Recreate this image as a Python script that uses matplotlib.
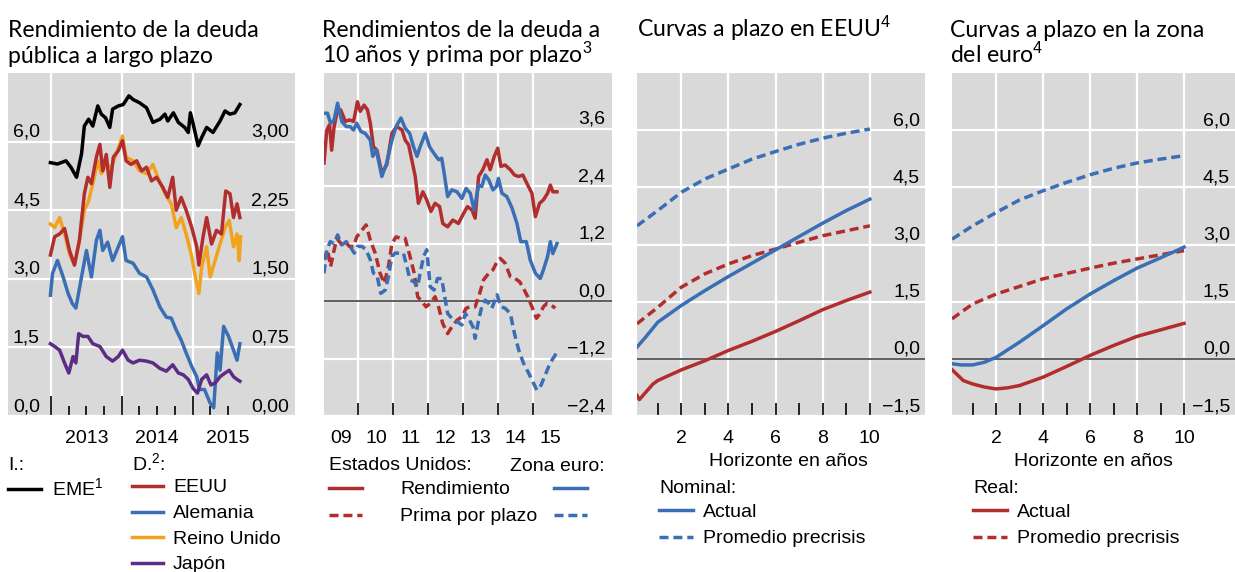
import matplotlib.pyplot as plt
from matplotlib.lines import Line2D
from matplotlib.transforms import blended_transform_factory, offset_copy

plt.rcParams['font.family'] = ['Liberation Sans', 'DejaVu Sans']
plt.rcParams['mathtext.fontset'] = 'custom'
plt.rcParams['mathtext.rm'] = 'Liberation Sans'
plt.rcParams['mathtext.it'] = 'Liberation Sans:italic'

RED = '#B22E2E'
BLUE = '#3A6EB5'
ORANGE = '#F2A31E'
PURPLE = '#5C2D85'
GREY = '#D9D9D9'
TITLE_FONT = ['Lato', 'DejaVu Sans']

# ---- panel 1: long-term government bond yields (decimal years) ----
eme_t = [2012.99, 2013.09, 2013.21, 2013.28, 2013.36, 2013.43, 2013.47, 2013.53, 2013.59, 2013.66,
         2013.71, 2013.77, 2013.83, 2013.87, 2013.95, 2014.02, 2014.10, 2014.16, 2014.25, 2014.35,
         2014.44, 2014.54, 2014.61, 2014.65, 2014.73, 2014.80, 2014.89, 2014.94, 2014.97, 2015.01,
         2015.08, 2015.13, 2015.20, 2015.29, 2015.39, 2015.46, 2015.53, 2015.60, 2015.67]
eme = [5.54, 5.51, 5.58, 5.44, 5.22, 5.73, 6.34, 6.49, 6.34, 6.78,
       6.60, 6.52, 6.31, 6.71, 6.78, 6.81, 7.00, 6.92, 6.85, 6.74,
       6.42, 6.49, 6.60, 6.45, 6.63, 6.42, 6.31, 6.20, 6.63, 6.38,
       5.91, 6.09, 6.31, 6.20, 6.45, 6.67, 6.60, 6.63, 6.81]

eeuu_t = [2012.99, 2013.05, 2013.12, 2013.19, 2013.26, 2013.33, 2013.40, 2013.47, 2013.52, 2013.57,
          2013.64, 2013.69, 2013.73, 2013.78, 2013.83, 2013.88, 2013.95, 2014.01, 2014.06, 2014.13,
          2014.21, 2014.28, 2014.35, 2014.42, 2014.49, 2014.58, 2014.65, 2014.72, 2014.77, 2014.84,
          2014.91, 2014.99, 2015.06, 2015.09, 2015.15, 2015.20, 2015.27, 2015.34, 2015.41, 2015.47,
          2015.53, 2015.58, 2015.63, 2015.67]
eeuu = [1.76, 1.96, 1.99, 2.05, 1.81, 1.65, 1.92, 2.43, 2.61, 2.54,
        2.83, 2.97, 2.68, 2.86, 2.50, 2.83, 2.90, 3.01, 2.79, 2.75,
        2.79, 2.68, 2.72, 2.57, 2.61, 2.50, 2.39, 2.61, 2.25, 2.39,
        2.25, 2.06, 1.85, 1.65, 1.96, 2.17, 1.88, 2.03, 1.99, 2.46,
        2.43, 2.17, 2.32, 2.17]

uk_t = [2012.99, 2013.05, 2013.12, 2013.19, 2013.26, 2013.33, 2013.40, 2013.47, 2013.53, 2013.59,
        2013.66, 2013.71, 2013.78, 2013.85, 2013.92, 2014.01, 2014.06, 2014.16, 2014.25, 2014.35,
        2014.44, 2014.51, 2014.61, 2014.70, 2014.77, 2014.84, 2014.91, 2014.99, 2015.03, 2015.09,
        2015.13, 2015.20, 2015.25, 2015.32, 2015.39, 2015.46, 2015.52, 2015.58, 2015.63, 2015.66,
        2015.68]
uk = [2.10, 2.06, 2.17, 1.99, 1.77, 1.65, 1.92, 2.25, 2.35, 2.54,
      2.79, 2.65, 2.75, 2.72, 2.86, 3.06, 2.83, 2.79, 2.68, 2.65,
      2.75, 2.61, 2.43, 2.32, 2.06, 2.17, 1.99, 1.74, 1.56, 1.34,
      1.63, 1.85, 1.52, 1.70, 1.88, 2.06, 2.14, 1.85, 1.99, 1.70,
      1.96]

de_t = [2012.99, 2013.02, 2013.09, 2013.17, 2013.24, 2013.30, 2013.35, 2013.43, 2013.50, 2013.57,
        2013.64, 2013.69, 2013.73, 2013.80, 2013.87, 2013.95, 2014.01, 2014.06, 2014.16, 2014.25,
        2014.35, 2014.44, 2014.54, 2014.63, 2014.70, 2014.77, 2014.84, 2014.91, 2014.99, 2015.06,
        2015.10, 2015.17, 2015.25, 2015.30, 2015.35, 2015.39, 2015.44, 2015.51, 2015.58, 2015.63,
        2015.67]
de = [1.32, 1.56, 1.70, 1.52, 1.34, 1.23, 1.18, 1.52, 1.81, 1.52,
      1.92, 2.03, 1.81, 1.90, 1.70, 1.85, 1.96, 1.70, 1.67, 1.56,
      1.52, 1.38, 1.19, 1.08, 1.07, 0.94, 0.83, 0.69, 0.54, 0.43,
      0.29, 0.29, 0.14, 0.09, 0.69, 0.50, 0.98, 0.87, 0.72, 0.61,
      0.79]

jp_t = [2012.99, 2013.05, 2013.12, 2013.19, 2013.25, 2013.31, 2013.35, 2013.39, 2013.45, 2013.52,
        2013.59, 2013.69, 2013.78, 2013.87, 2013.95, 2014.01, 2014.09, 2014.16, 2014.25, 2014.35,
        2014.44, 2014.54, 2014.63, 2014.72, 2014.80, 2014.87, 2014.94, 2015.01, 2015.07, 2015.13,
        2015.20, 2015.26, 2015.32, 2015.39, 2015.46, 2015.52, 2015.58, 2015.63, 2015.67]
jp = [0.79, 0.76, 0.72, 0.58, 0.47, 0.65, 0.58, 0.90, 0.87, 0.87,
      0.79, 0.76, 0.65, 0.60, 0.65, 0.72, 0.61, 0.58, 0.61, 0.60,
      0.58, 0.52, 0.49, 0.56, 0.47, 0.45, 0.40, 0.30, 0.25, 0.40,
      0.45, 0.34, 0.36, 0.43, 0.47, 0.50, 0.43, 0.40, 0.38]

p1_years = [2013, 2014, 2015]
p1_left_ticks = [0.0, 1.5, 3.0, 4.5, 6.0]
p1_left_labels = ['0,0', '1,5', '3,0', '4,5', '6,0']
p1_right_ticks = [0.0, 0.75, 1.5, 2.25, 3.0]
p1_right_labels = ['0,00', '0,75', '1,50', '2,25', '3,00']

# ---- panel 2: 10-year yields and term premia ----
us_y_t = [2009.01, 2009.09, 2009.17, 2009.23, 2009.30, 2009.38, 2009.49, 2009.62, 2009.74, 2009.86,
          2009.97, 2010.05, 2010.16, 2010.26, 2010.34, 2010.43, 2010.53, 2010.67, 2010.81, 2010.96,
          2011.10, 2011.25, 2011.34, 2011.44, 2011.53, 2011.63, 2011.72, 2011.85, 2011.96, 2012.08,
          2012.20, 2012.33, 2012.42, 2012.56, 2012.71, 2012.87, 2013.02, 2013.13, 2013.26, 2013.35,
          2013.45, 2013.57, 2013.69, 2013.78, 2013.90, 2014.00, 2014.09, 2014.21, 2014.36, 2014.48,
          2014.60, 2014.72, 2014.86, 2014.98, 2015.08, 2015.20, 2015.31, 2015.43, 2015.51, 2015.58,
          2015.70]
us_y = [2.88, 3.57, 3.68, 3.15, 3.64, 3.92, 3.99, 3.75, 3.78, 3.75,
        4.16, 3.96, 4.09, 3.99, 3.71, 3.22, 3.15, 2.67, 2.84, 3.50,
        3.64, 3.57, 3.36, 3.26, 2.95, 2.60, 2.04, 2.28, 2.11, 1.87,
        2.04, 1.97, 1.62, 1.55, 1.69, 1.62, 1.83, 1.97, 1.90, 1.73,
        2.60, 2.74, 2.95, 2.74, 3.02, 3.19, 2.81, 2.84, 2.74, 2.63,
        2.60, 2.63, 2.42, 2.25, 1.76, 2.04, 2.11, 2.25, 2.42, 2.28,
        2.28]

ea_y_t = [2009.01, 2009.11, 2009.20, 2009.30, 2009.40, 2009.52, 2009.65, 2009.76, 2009.86, 2009.95,
          2010.07, 2010.19, 2010.34, 2010.41, 2010.51, 2010.57, 2010.67, 2010.81, 2010.96, 2011.08,
          2011.22, 2011.34, 2011.47, 2011.58, 2011.68, 2011.77, 2011.92, 2012.04, 2012.17, 2012.30,
          2012.39, 2012.46, 2012.56, 2012.68, 2012.83, 2012.97, 2013.09, 2013.21, 2013.32, 2013.45,
          2013.54, 2013.64, 2013.74, 2013.86, 2013.96, 2014.02, 2014.12, 2014.26, 2014.41, 2014.55,
          2014.66, 2014.82, 2014.93, 2015.08, 2015.22, 2015.31, 2015.43, 2015.51, 2015.58, 2015.70]
ea_y = [3.92, 3.92, 3.71, 3.78, 4.13, 3.75, 3.64, 3.64, 3.57, 3.71,
        3.54, 3.50, 3.36, 3.02, 3.15, 2.95, 2.60, 2.88, 3.36, 3.64,
        3.82, 3.61, 3.50, 3.22, 3.02, 3.22, 3.50, 3.22, 3.08, 2.95,
        2.98, 2.67, 2.18, 2.32, 2.28, 2.14, 2.35, 2.25, 1.90, 2.42,
        2.39, 2.63, 2.53, 2.32, 2.39, 2.56, 2.25, 2.18, 1.94, 1.62,
        1.24, 1.24, 0.86, 0.58, 0.47, 0.65, 0.93, 1.24, 0.99, 1.20]

us_tp_t = [2009.01, 2009.11, 2009.20, 2009.28, 2009.38, 2009.49, 2009.62, 2009.74, 2009.86, 2009.95,
           2010.10, 2010.22, 2010.34, 2010.48, 2010.62, 2010.74, 2010.86, 2010.96, 2011.08, 2011.20,
           2011.34, 2011.48, 2011.60, 2011.70, 2011.82, 2011.94, 2012.06, 2012.20, 2012.30, 2012.42,
           2012.56, 2012.68, 2012.83, 2012.97, 2013.09, 2013.21, 2013.35, 2013.48, 2013.59, 2013.74,
           2013.86, 2013.98, 2014.07, 2014.21, 2014.36, 2014.50, 2014.63, 2014.74, 2014.86, 2014.98,
           2015.11, 2015.22, 2015.31, 2015.41, 2015.53, 2015.65]
us_tp = [0.86, 1.07, 0.72, 1.00, 1.31, 1.20, 1.24, 1.14, 1.14, 1.34,
         1.48, 1.59, 1.27, 1.00, 0.58, 0.37, 0.72, 1.20, 1.34, 1.31,
         1.31, 0.93, 0.58, 0.09, -0.01, -0.12, -0.05, 0.09, -0.12, -0.47,
         -0.68, -0.54, -0.40, -0.33, -0.15, -0.12, -0.12, 0.16, 0.44, 0.58,
         0.65, 0.82, 0.89, 0.79, 0.51, 0.47, 0.40, 0.26, 0.09, -0.12,
         -0.36, -0.26, -0.12, -0.05, -0.08, -0.15]

ea_tp_t = [2009.01, 2009.09, 2009.19, 2009.30, 2009.40, 2009.52, 2009.65, 2009.76, 2009.88, 2009.97,
           2010.10, 2010.22, 2010.34, 2010.43, 2010.53, 2010.64, 2010.77, 2010.86, 2010.96, 2011.05,
           2011.18, 2011.29, 2011.39, 2011.48, 2011.60, 2011.70, 2011.77, 2011.87, 2011.96, 2012.06,
           2012.17, 2012.27, 2012.39, 2012.46, 2012.56, 2012.68, 2012.83, 2012.97, 2013.07, 2013.19,
           2013.29, 2013.35, 2013.45, 2013.54, 2013.64, 2013.74, 2013.83, 2013.98, 2014.09, 2014.21,
           2014.36, 2014.48, 2014.60, 2014.74, 2014.89, 2015.01, 2015.12, 2015.24, 2015.36, 2015.46,
           2015.56, 2015.68]
ea_tp = [0.58, 1.07, 1.24, 1.20, 1.38, 1.17, 1.24, 1.14, 1.00, 1.14,
         1.14, 1.07, 0.86, 0.58, 0.54, 0.16, 0.23, 0.51, 0.93, 1.00,
         1.00, 1.00, 0.72, 0.44, 0.40, 0.30, 0.58, 0.93, 1.07, 0.30,
         0.23, 0.47, 0.47, 0.16, -0.26, -0.36, -0.43, -0.50, -0.26, -0.40,
         -0.54, -0.78, -0.40, -0.12, 0.02, -0.05, -0.15, 0.13, -0.12, -0.15,
         -0.26, -0.68, -1.02, -1.30, -1.51, -1.69, -1.86, -1.76, -1.55, -1.37,
         -1.23, -1.09]

p2_bounds = [2010, 2011, 2012, 2013, 2014, 2015]
p2_year_labels = ['09', '10', '11', '12', '13', '14', '15']
p2_ticks = [-2.4, -1.2, 0.0, 1.2, 2.4, 3.6]
p2_labels = ['\u22122,4', '\u22121,2', '0,0', '1,2', '2,4', '3,6']

# ---- panels 3 and 4: forward curves ----
h_full = [0.12, 0.5, 1, 2, 3, 4, 5, 6, 7, 8, 9, 10]
h_pre = [0.12, 1, 2, 3, 4, 5, 6, 7, 8, 9, 10]
h_us_real = [0.12, 0.22, 0.5, 0.8, 1, 2, 3, 4, 5, 6, 7, 8, 9, 10]
us_nom_act = [0.31, 0.58, 0.96, 1.40, 1.79, 2.16, 2.51, 2.86, 3.21, 3.56, 3.89, 4.19]
us_nom_pre = [3.49, 3.89, 4.37, 4.72, 4.98, 5.24, 5.44, 5.63, 5.79, 5.92, 6.03]
us_real_act = [-0.96, -1.07, -0.87, -0.66, -0.57, -0.29, -0.05, 0.22, 0.46, 0.72, 1.00, 1.29, 1.53, 1.75]
us_real_pre = [0.92, 1.35, 1.88, 2.23, 2.49, 2.71, 2.88, 3.06, 3.23, 3.36, 3.49]

h_ea_nom = [0.13, 0.5, 1, 1.5, 2, 3, 4, 5, 6, 7, 8, 9, 10]
h_ea_real = [0.13, 0.3, 0.6, 1, 1.5, 2, 2.5, 3, 4, 5, 6, 7, 8, 9, 10]
ea_nom_act = [-0.13, -0.16, -0.16, -0.09, 0.04, 0.44, 0.87, 1.31, 1.70, 2.05, 2.38, 2.65, 2.93]
ea_nom_pre = [3.14, 3.49, 3.84, 4.17, 4.41, 4.63, 4.83, 5.00, 5.14, 5.24, 5.33]
ea_real_act = [-0.29, -0.39, -0.57, -0.66, -0.74, -0.79, -0.76, -0.70, -0.48, -0.20, 0.09, 0.35, 0.59, 0.76, 0.93]
ea_real_pre = [1.05, 1.44, 1.70, 1.90, 2.10, 2.24, 2.38, 2.51, 2.62, 2.73, 2.84]

curve_ticks = [-1.5, 0.0, 1.5, 3.0, 4.5, 6.0]
curve_labels = ['\u22121,5', '0,0', '1,5', '3,0', '4,5', '6,0']
h_labels = [2, 4, 6, 8, 10]

W, H = 1235, 572
fig = plt.figure(figsize=(W / 100, H / 100), dpi=100)
LW = 2.5
DASH = (2.6, 1.4)


def px_axes(l, t, r, b):
    return fig.add_axes([l / W, 1 - b / H, (r - l) / W, (b - t) / H])


def hide_y(ax):
    ax.tick_params(axis='y', which='both', left=False, right=False, labelleft=False, labelright=False)


def style(ax):
    ax.set_facecolor(GREY)
    for s in ax.spines.values():
        s.set_visible(False)
    ax.set_axisbelow(True)
    hide_y(ax)
    ax.tick_params(axis='x', which='both', direction='in', labelbottom=False, color='black', width=1.2)
    ax.grid(True, which='major', color='white', lw=1.6)


def ylabels(ax, vals, texts, side, dx):
    tr = blended_transform_factory(ax.transAxes, ax.transData)
    tr = offset_copy(tr, fig=fig, x=dx, y=5, units='dots')
    x, ha = (0, 'left') if side == 'left' else (1, 'right')
    for v, t in zip(vals, texts):
        ax.text(x, v, t, transform=tr, ha=ha, va='baseline', fontsize=14)


def xlabels(ax, vals, texts, dy=-27):
    tr = blended_transform_factory(ax.transData, ax.transAxes)
    tr = offset_copy(tr, fig=fig, x=0, y=dy, units='dots')
    for v, t in zip(vals, texts):
        ax.text(v, 0, t, transform=tr, ha='center', va='baseline', fontsize=14)


def ftext(x, y, s, size=14, **kw):
    fig.text(x / W, 1 - y / H, s, fontsize=size, va='baseline', **kw)


def fline(x0, x1, y, color, dashed=False):
    ln = Line2D([x0 / W, x1 / W], [1 - y / H, 1 - y / H], color=color, lw=LW,
                transform=fig.transFigure)
    if dashed:
        ln.set_dashes(DASH)
    fig.add_artist(ln)


# ---------------- panel 1 ----------------
ax1 = px_axes(8, 73, 295, 416)
style(ax1)
ax1.set_xlim(2012.39, 2016.45)
ax1.set_ylim(0, 7.5)
ax1.set_yticks(p1_left_ticks)
ax1.set_xticks(p1_years)
ax1.set_xticks([2013.25, 2013.5, 2013.75, 2014.25, 2014.5, 2014.75, 2015.25, 2015.5], minor=True)
ax1.tick_params(axis='x', which='major', length=14.5)
ax1.tick_params(axis='x', which='minor', length=7.5)
ax1.plot(eme_t, eme, color='black', lw=LW, zorder=3)
ax1b = ax1.twinx()
ax1b.patch.set_visible(False)
for s in ax1b.spines.values():
    s.set_visible(False)
ax1b.set_ylim(0, 3.75)
hide_y(ax1)
hide_y(ax1b)
ax1b.plot(uk_t, uk, color=ORANGE, lw=LW)
ax1b.plot(eeuu_t, eeuu, color=RED, lw=LW)
ax1b.plot(de_t, de, color=BLUE, lw=LW)
ax1b.plot(jp_t, jp, color=PURPLE, lw=LW)
ylabels(ax1, p1_left_ticks, p1_left_labels, 'left', 5)
ylabels(ax1b, p1_right_ticks, p1_right_labels, 'right', -6)
xlabels(ax1, [y + 0.5 for y in p1_years], [str(y) for y in p1_years])

# ---------------- panel 2 ----------------
ax2 = px_axes(324, 73, 612, 416)
style(ax2)
ax2.set_xlim(2009.01, 2017.28)
ax2.set_ylim(-2.4, 4.76)
ax2.set_yticks(p2_ticks)
ax2.set_xticks(p2_bounds)
ax2.tick_params(axis='x', which='major', length=9.5)
ax2.axhline(0, color='#333333', lw=1.1, zorder=2)
ax2.plot(us_tp_t, us_tp, color=RED, lw=LW, dashes=DASH)
ax2.plot(ea_tp_t, ea_tp, color=BLUE, lw=LW, dashes=DASH)
ax2.plot(us_y_t, us_y, color=RED, lw=LW)
ax2.plot(ea_y_t, ea_y, color=BLUE, lw=LW)
ylabels(ax2, p2_ticks, p2_labels, 'right', -7)
xlabels(ax2, [2009.5 + i for i in range(7)], p2_year_labels)


# ---------------- panels 3 and 4 ----------------
def curve_panel(l, r, xmax, series, hx):
    ax = px_axes(l, 73, r, 416)
    style(ax)
    ax.set_xlim(0.12, xmax)
    ax.set_ylim(-1.5, 7.5)
    ax.set_yticks(curve_ticks)
    ax.set_xticks(h_labels)
    ax.set_xticks([1, 3, 5, 7, 9], minor=True)
    ax.tick_params(axis='x', which='both', length=9.5)
    ax.axhline(0, color='#333333', lw=1.1, zorder=2)
    for h, v, c, dashed in series:
        if dashed:
            ax.plot(h, v, color=c, lw=LW, dashes=DASH)
        else:
            ax.plot(h, v, color=c, lw=LW)
    ylabels(ax, curve_ticks, curve_labels, 'right', -5)
    xlabels(ax, h_labels, [str(v) for v in h_labels])
    ax.text(hx, 0, 'Horizonte en años', transform=offset_copy(ax.transAxes, fig=fig, y=-50, units='dots'),
            ha='center', va='baseline', fontsize=14)
    return ax


curve_panel(637, 925, 12.34, [(h_pre, us_nom_pre, BLUE, True), (h_pre, us_real_pre, RED, True),
                              (h_full, us_nom_act, BLUE, False), (h_us_real, us_real_act, RED, False)], 0.525)
curve_panel(952, 1235, 12.17, [(h_pre, ea_nom_pre, BLUE, True), (h_pre, ea_real_pre, RED, True),
                               (h_ea_nom, ea_nom_act, BLUE, False), (h_ea_real, ea_real_act, RED, False)], 0.50)

# ---------------- titles ----------------
TS = 16.6
ftext(8, 37, 'Rendimiento de la deuda', TS, family=TITLE_FONT)
ftext(8, 63, 'pública a largo plazo', TS, family=TITLE_FONT)
ftext(322, 37, 'Rendimientos de la deuda a', TS, family=TITLE_FONT)
ftext(322, 63, '10 años y prima por plazo$^{3}$', TS, family=TITLE_FONT)
ftext(637, 37, 'Curvas a plazo en EEUU$^{4}$', TS, family=TITLE_FONT)
ftext(950, 37, 'Curvas a plazo en la zona', TS, family=TITLE_FONT)
ftext(950, 63, 'del euro$^{4}$', TS, family=TITLE_FONT)

# ---------------- legends ----------------
ftext(8, 470, 'I.:')
fline(8, 41, 489, 'black')
ftext(52, 495, 'EME$^{1}$')
ftext(132, 470, 'D.$^{2}$:')
for i, (name, c) in enumerate([('EEUU', RED), ('Alemania', BLUE), ('Reino Unido', ORANGE), ('Japón', PURPLE)]):
    y = 486 + i * 25.5
    fline(132, 163, y, c)
    ftext(173, y + 6.5, name)

ftext(329, 470, 'Estados Unidos:')
ftext(510, 471, 'Zona euro:')
fline(329, 362, 488, RED)
fline(554, 587, 488, BLUE)
ftext(400, 494, 'Rendimiento')
fline(329, 362, 515, RED, True)
fline(554, 587, 515, BLUE, True)
ftext(400, 521, 'Prima por plazo')

ftext(659, 493, 'Nominal:')
fline(659, 693, 510, BLUE)
ftext(703, 517, 'Actual')
fline(659, 693, 537, BLUE, True)
ftext(703, 543, 'Promedio precrisis')

ftext(973, 493, 'Real:')
fline(973, 1007, 510, RED)
ftext(1017, 517, 'Actual')
fline(973, 1007, 537, RED, True)
ftext(1017, 543, 'Promedio precrisis')

fig.savefig('out.png', dpi=100)
